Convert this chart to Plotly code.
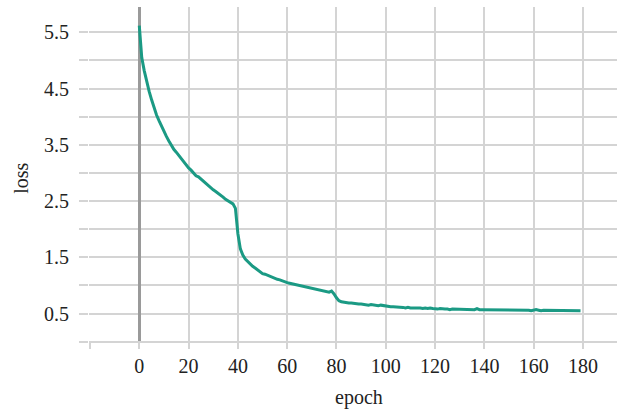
import plotly.graph_objects as go

epochs = list(range(0, 180))
loss = [
    5.62, 5.05, 4.82, 4.62, 4.45, 4.30, 4.16, 4.03, 3.93, 3.83,
    3.74, 3.65, 3.57, 3.49, 3.42, 3.37, 3.31, 3.25, 3.20, 3.14,
    3.09, 3.05, 3.00, 2.95, 2.93, 2.89, 2.85, 2.81, 2.78, 2.74,
    2.70, 2.67, 2.64, 2.60, 2.57, 2.53, 2.50, 2.47, 2.45, 2.37,
    1.92, 1.65, 1.54, 1.47, 1.42, 1.38, 1.34, 1.31, 1.28, 1.24,
    1.21, 1.20, 1.18, 1.16, 1.14, 1.13, 1.11, 1.10, 1.08, 1.06,
    1.05, 1.04, 1.03, 1.02, 1.00, 0.99, 0.99, 0.97, 0.96, 0.96,
    0.94, 0.93, 0.93, 0.91, 0.91, 0.90, 0.88, 0.88, 0.90, 0.85,
    0.78, 0.73, 0.71, 0.70, 0.70, 0.69, 0.69, 0.68, 0.68, 0.67,
    0.67, 0.66, 0.66, 0.65, 0.66, 0.65, 0.64, 0.64, 0.65, 0.64,
    0.63, 0.63, 0.62, 0.62, 0.62, 0.61, 0.61, 0.61, 0.60, 0.61,
    0.60, 0.60, 0.60, 0.61, 0.60, 0.59, 0.60, 0.59, 0.60, 0.59,
    0.58, 0.58, 0.59, 0.58, 0.58, 0.58, 0.57, 0.58, 0.58, 0.57,
    0.58, 0.57, 0.58, 0.57, 0.57, 0.58, 0.57, 0.59, 0.57, 0.57,
    0.57, 0.56, 0.57, 0.56, 0.57, 0.56, 0.56, 0.57, 0.56, 0.57,
    0.56, 0.56, 0.57, 0.56, 0.56, 0.57, 0.56, 0.57, 0.56, 0.55,
    0.56, 0.57, 0.56, 0.55, 0.56, 0.56, 0.55, 0.56, 0.56, 0.56,
    0.55, 0.56, 0.56, 0.55, 0.56, 0.56, 0.55, 0.56, 0.56, 0.55,
]

x_tickvals = [-20, 0, 20, 40, 60, 80, 100, 120, 140, 160, 180]
x_ticktext = ["", "0", "20", "40", "60", "80", "100", "120", "140", "160", "180"]
y_tickvals = [0, 0.5, 1, 1.5, 2, 2.5, 3, 3.5, 4, 4.5, 5, 5.5]
y_ticktext = ["", "0.5", "", "1.5", "", "2.5", "", "3.5", "", "4.5", "", "5.5"]

grid = "#d4d4d4"
font = dict(family="Liberation Serif", size=20, color="#222222")

fig = go.Figure()
fig.add_trace(go.Scatter(
    x=epochs, y=loss, mode="lines",
    line=dict(color="#1b9a84", width=3),
    showlegend=False,
))

fig.update_layout(
    width=617, height=415,
    margin=dict(l=89, r=0, t=7, b=73),
    paper_bgcolor="white", plot_bgcolor="white",
    font=font,
    xaxis=dict(
        range=[-20.4, 193.8],
        tickvals=x_tickvals, ticktext=x_ticktext,
        showgrid=True, gridcolor=grid, gridwidth=1.5,
        ticks="outside", ticklen=6, tickcolor=grid, tickwidth=1.5,
        zeroline=True, zerolinecolor="#9a9a9a", zerolinewidth=2.5,
        showline=False, automargin=False, tickfont=font,
    ),
    yaxis=dict(
        range=[-0.005, 5.95],
        tickvals=y_tickvals, ticktext=y_ticktext,
        showgrid=True, gridcolor=grid, gridwidth=1.5,
        ticks="outside", ticklen=9, tickcolor=grid, tickwidth=1.5,
        zeroline=True, zerolinecolor=grid, zerolinewidth=1.5,
        showline=False, automargin=False, tickfont=font,
        ticklabelstandoff=6,
    ),
    annotations=[
        dict(text="epoch", xref="paper", yref="paper", x=0.511, y=-0.167,
             showarrow=False, xanchor="center", yanchor="middle", font=font),
        dict(text="loss", xref="paper", yref="paper", x=-0.129, y=0.49,
             showarrow=False, xanchor="center", yanchor="middle", textangle=-90, font=font),
    ],
)

fig.write_html("out.html", config={"displayModeBar": False},
               post_script="document.body.style.margin='0';")
